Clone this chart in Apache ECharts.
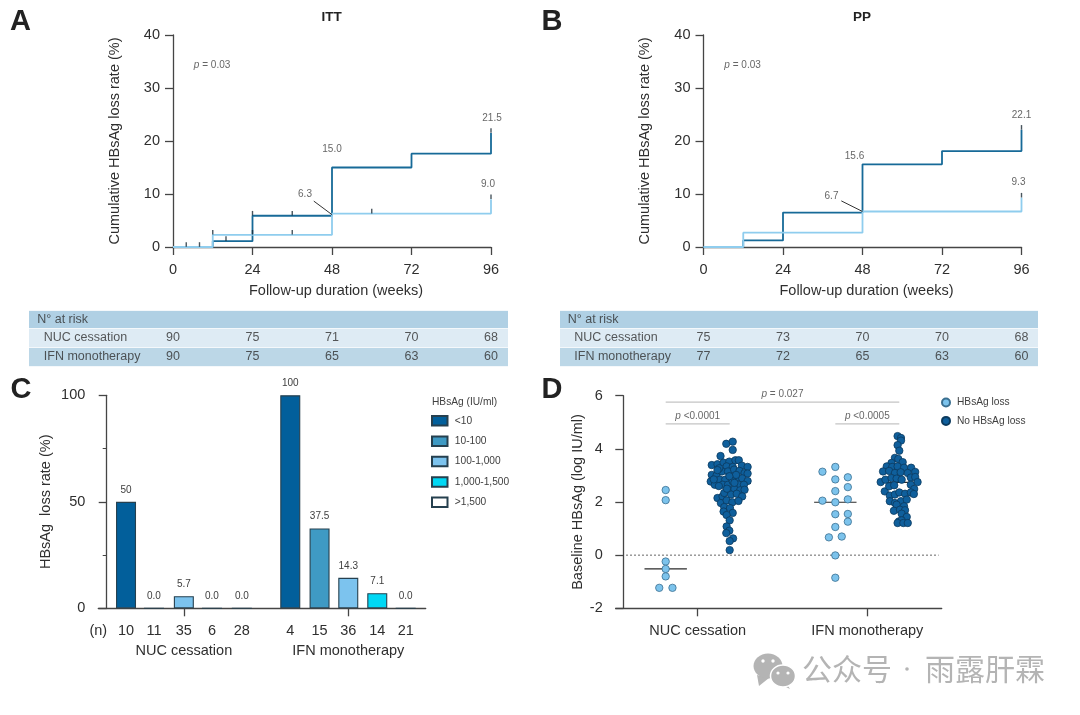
<!DOCTYPE html>
<html><head><meta charset="utf-8">
<style>html,body{margin:0;padding:0;background:#fff}#c{width:1080px;height:715px}</style>
<script src="https://cdn.jsdelivr.net/npm/echarts@6/dist/echarts.min.js"></script>
</head><body><div id="c"></div>
<script>
// ---------- Data ----------
const riskWeeks = [0, 24, 48, 72, 96];
const ittNucRisk = [90, 75, 71, 70, 68];
const ittIfnRisk = [90, 75, 65, 63, 60];
const ppNucRisk = [75, 73, 70, 70, 68];
const ppIfnRisk = [77, 72, 65, 63, 60];

const ittNucStep = [[0,0],[12,1.1],[24,5.9],[48,15.0],[72,17.6],[96,21.5]];
const ittIfnStep = [[0,0],[12,2.3],[48,6.3],[96,9.0]];
const ppNucStep = [[0,0],[12,1.25],[24,6.5],[48,15.6],[72,18.1],[96,22.1]];
const ppIfnStep = [[0,0],[12,2.7],[48,6.7],[96,9.3]];
const ittCensor = [[4,0],[8,0],[12,2.3],[16,1.1],[24,5.9],[24,2.3],[36,5.9],[36,2.3],[60,6.3],[96,21.5],[96,9.0]];
const ppCensor = [[96,22.1],[96,9.3]];
const ittLabels = [[96,21.5,1,-15],[48,15.0,0,-18],[96,9.0,-3,-15],[48,6.3,-27,-19]];
const ppLabels = [[96,22.1,0,-15],[48,15.6,-8,-8],[96,9.3,-3,-15],[48,6.7,-31,-15]];
const ittLeader = [[42.5,8.66],[48,6.1]];
const ppLeader = [[41.6,8.7],[48,6.7]];

const classNames = ['<10','10-100','100-1,000','1,000-1,500','>1,500'];
const classColors = ['#025f9b','#3f9ac4','#7cc3ee','#00d8f5','#ffffff'];
const nucLossRate = [50, 0, 5.7, 0, 0];
const ifnLossRate = [100, 37.5, 14.3, 7.1, 0];
const nucN = [10, 11, 35, 6, 28];
const ifnN = [4, 15, 36, 14, 21];
const nucBarPos = [0.666, 1.63, 2.66, 3.63, 4.66];
const ifnBarPos = [6.33, 7.34, 8.33, 9.33, 10.31];
const groupPos = [2.66, 8.33];
const groupNames = ['NUC cessation', 'IFN monotherapy'];

const dGroupPos = [1, 3.28];
const laneShift = 0.43, swarmUnit = 0.00455, medianHalf = 0.285;
const nucLoss = [[0,2.45],[0,2.07],[0,-0.24],[0,-0.52],[0,-0.80],[-19,-1.23],[20,-1.23]];
const ifnLoss = [[-38,3.14],[0,3.32],[0,2.85],[37,2.93],[0,2.41],[37,2.56],[-38,2.05],[0,1.99],[37,2.10],[0,1.54],[37,1.55],[37,1.26],[0,1.06],[-19,0.67],[19,0.70],[0,-0.01],[0,-0.85]];
const nucNoLoss = [[-10,4.19],[9,4.27],[9,3.96],[-27,3.73],
 [-53,3.39],[-36,3.42],[-18,3.48],[-1,3.52],[17,3.57],[27,3.57],[-9,3.34],[9,3.32],[36,3.37],[53,3.32],
 [-53,3.02],[-39,2.99],[-23,3.15],[-5,3.15],[13,3.22],[29,3.17],[44,3.09],[53,3.07],
 [-56,2.77],[-44,2.65],[-29,2.84],[-13,2.84],[5,2.94],[22,2.90],[37,2.89],[53,2.79],
 [-21,2.65],[-5,2.65],[9,2.78],[27,2.65],[42,2.65],
 [-36,2.15],[-21,2.21],[-3,2.44],[14,2.49],[31,2.44],[44,2.46],
 [-16,2.34],[4,2.28],[21,2.31],[37,2.21],
 [-26,1.96],[-9,2.06],[8,1.99],[26,2.04],
 [-16,1.81],[1,1.77],[9,1.59],[-18,1.64],[-9,1.51],[0,1.31],
 [-9,1.08],[-1,0.92],[-10,0.83],[10,0.63],[0,0.53],[0,0.19],
 [-31,3.27],[19,3.02],[-1,2.97],[-36,3.20],[-47,2.85],[14,2.72],[-8,2.50],[-32,2.60]];
const ifnNoLoss = [[-5,4.48],[5,4.41],[5,4.31],[-5,4.14],[0,3.93],
 [-13,3.66],[-3,3.62],[10,3.50],[-23,3.47],
 [-37,3.34],[-21,3.32],[-5,3.34],[14,3.29],[35,3.29],[47,3.13],[-48,3.15],[-30,3.17],[-13,3.09],[4,3.12],[25,3.09],
 [-55,2.75],[-41,2.84],[-23,2.90],[-8,2.88],[7,2.84],[34,2.92],[47,2.94],[54,2.75],
 [-43,2.40],[-30,2.59],[-15,2.63],[34,2.65],[44,2.49],
 [-28,2.24],[-13,2.28],[0,2.36],[17,2.31],[34,2.36],[43,2.30],
 [-28,2.03],[-13,1.96],[5,2.03],[22,2.09],
 [-8,1.90],[14,1.84],[-16,1.67],[2,1.71],[17,1.69],[7,1.56],[22,1.44],[-1,1.27],[7,1.31],[-5,1.21],[12,1.21],[25,1.21]];
const nucLossMedian = -0.52, nucNoLossMedian = 2.7, ifnLossMedian = 1.99, ifnNoLossMedian = 2.74;

// ---------- Style ----------
const FONT = '"Liberation Sans", Arial, sans-serif';
const AX = '#454545', TXT = '#2f2f2f', SMALL = '#404040', FS = 14.5;
const DARK = '#176a98', LIGHT = '#8fcdee';
const axisLine = (extra) => Object.assign({show:true, lineStyle:{color:AX, width:1.3}}, extra||{});
const axisTick = (extra) => Object.assign({show:true, length:8, lineStyle:{color:AX, width:1.3}}, extra||{});

const grid=[], xAxis=[], yAxis=[], series=[], title=[];
function t(text,left,top,size,weight,color){title.push({text,left,top,padding:0,textStyle:{fontFamily:FONT,fontSize:size,fontWeight:weight||'normal',color:color||'#222'}});}

// ---------- Kaplan-Meier panels ----------
function km(left, nuc, ifn, censor, labels, leader){
  const g=grid.length;
  grid.push({left:left, top:35, width:318, height:212});
  xAxis.push({type:'value',gridIndex:g,min:0,max:96,interval:24,splitLine:{show:false},
    axisLine:axisLine(),axisTick:axisTick(),
    axisLabel:{fontSize:FS,color:TXT,margin:15,fontFamily:FONT},
    name:'Follow-up duration (weeks)',nameLocation:'middle',nameGap:36,
    nameTextStyle:{fontSize:FS,color:TXT,fontFamily:FONT,padding:[0,0,0,8]}});
  yAxis.push({type:'value',gridIndex:g,min:0,max:40,interval:10,splitLine:{show:false},
    axisLine:axisLine(),axisTick:axisTick(),
    axisLabel:{fontSize:FS,color:TXT,margin:13,fontFamily:FONT},
    name:'Cumulative HBsAg loss rate (%)',nameLocation:'middle',nameGap:51,
    nameTextStyle:{fontSize:FS,color:TXT,fontFamily:FONT}});
  const base={xAxisIndex:g,yAxisIndex:g,silent:true};
  series.push(Object.assign({type:'line',step:'end',data:nuc,showSymbol:false,z:5,clip:false,lineStyle:{color:DARK,width:1.8}},base));
  series.push(Object.assign({type:'line',step:'end',data:ifn,showSymbol:false,z:6,clip:false,lineStyle:{color:LIGHT,width:1.8}},base));
  series.push(Object.assign({type:'scatter',data:censor,symbol:'rect',symbolSize:[1.4,4.6],symbolOffset:[0,-2.5],z:7,clip:false,itemStyle:{color:'#1a2a35'}},base));
  series.push(Object.assign({type:'line',data:leader,showSymbol:false,z:8,lineStyle:{color:'#333',width:1}},base));
  series.push(Object.assign({type:'scatter',symbolSize:0,z:9,clip:false,data:labels.map(d=>({value:[d[0],d[1]],label:{show:true,position:'inside',offset:[d[2],d[3]],formatter:d[1].toFixed(1),fontSize:10,color:SMALL,fontFamily:FONT}}))},base));
  series.push(Object.assign({type:'scatter',symbolSize:0,z:9,data:[[6.3,34.3]],label:{show:true,position:'right',distance:0,formatter:'{i|p} = 0.03',fontSize:10,color:SMALL,fontFamily:FONT,rich:{i:{fontStyle:'italic',fontSize:10,color:SMALL,fontFamily:FONT}}}},base));
}

// ---------- At-risk tables ----------
function riskTable(left, width, zeroPx, nucR, ifnR){
  const g=grid.length, pxPerWeek=3.3125;
  const rows=['N° at risk','NUC cessation','IFN monotherapy'];
  grid.push({left:left,top:310,width:width,height:56});
  xAxis.push({type:'value',gridIndex:g,min:(left-zeroPx)/pxPerWeek,max:(left+width-zeroPx)/pxPerWeek,show:false,splitLine:{show:false}});
  yAxis.push({type:'category',gridIndex:g,inverse:true,data:rows,axisLine:{show:false},axisTick:{show:false},axisLabel:{show:false},
    splitLine:{show:true,interval:0,lineStyle:{color:'#f4f8fb',width:1}},
    splitArea:{show:true,interval:0,areaStyle:{color:['#b0d0e4','#deebf4','#bcd7e7'],opacity:1}}});
  const base={type:'scatter',xAxisIndex:g,yAxisIndex:g,symbolSize:0,silent:true,z:5};
  const lab={fontSize:12.5,color:TXT,fontFamily:FONT};
  const heads=[['N° at risk',-41],['NUC cessation',-39],['IFN monotherapy',-39]];
  series.push(Object.assign({},base,{data:heads.map(h=>({value:[h[1],h[0]],label:{show:true,position:'right',distance:0,formatter:h[0],...lab}}))}));
  [[nucR,rows[1]],[ifnR,rows[2]]].forEach(r=>{
    series.push(Object.assign({},base,{data:riskWeeks.map((w,i)=>({value:[w,r[1]],label:{show:true,position:'inside',formatter:String(r[0][i]),...lab}}))}));
  });
}

km(173,ittNucStep,ittIfnStep,ittCensor,ittLabels,ittLeader);
km(703.5,ppNucStep,ppIfnStep,ppCensor,ppLabels,ppLeader);
riskTable(29,479,173,ittNucRisk,ittIfnRisk);
riskTable(560,478,703.5,ppNucRisk,ppIfnRisk);

// ---------- Panel C ----------
(function(){
  const g=grid.length, xMin=-0.29, xMax=11.0;
  const allPos=nucBarPos.concat(ifnBarPos), allN=nucN.concat(ifnN);
  grid.push({left:98.3,top:395.3,width:327.4,height:213});
  xAxis.push({type:'value',gridIndex:g,position:'bottom',min:xMin,max:xMax,splitLine:{show:false},
    axisLine:axisLine(),
    axisTick:axisTick({customValues:groupPos}),
    axisLabel:{fontSize:FS,color:TXT,fontFamily:FONT,margin:15,customValues:[xMin].concat(allPos),
      formatter:v=>{ if(Math.abs(v-xMin)<1e-6) return '(n)'; const i=allPos.findIndex(p=>Math.abs(p-v)<1e-6); return i>=0?String(allN[i]):'';}}});
  xAxis.push({type:'value',gridIndex:g,position:'bottom',min:xMin,max:xMax,splitLine:{show:false},offset:20,
    axisLine:{show:false,onZero:false},axisTick:{show:false},
    axisLabel:{fontSize:FS,color:TXT,fontFamily:FONT,margin:15,customValues:groupPos,
      formatter:v=>groupNames[groupPos.findIndex(p=>Math.abs(p-v)<1e-6)]||''}});
  yAxis.push({type:'value',gridIndex:g,min:0,max:100,interval:50,splitLine:{show:false},
    minorTick:{show:true,splitNumber:2,length:4,lineStyle:{color:AX,width:1}},
    axisLine:axisLine(),axisTick:axisTick(),
    axisLabel:{fontSize:FS,color:TXT,margin:13,fontFamily:FONT},
    name:'HBsAg  loss rate (%)',nameLocation:'middle',nameGap:44.6,
    nameTextStyle:{fontSize:FS,color:TXT,fontFamily:FONT}});
  const xi=xAxis.length-2;
  classNames.forEach((name,i)=>{
    series.push({type:'bar',name,xAxisIndex:xi,yAxisIndex:yAxis.length-1,barWidth:20,barGap:'-100%',silent:true,z:4,
      itemStyle:{color:classColors[i],borderColor:'#26404f',borderWidth:1.1},
      data:[[nucBarPos[i],nucLossRate[i]],[ifnBarPos[i],ifnLossRate[i]]],
      label:{show:true,position:'top',distance:7,fontSize:10,color:SMALL,fontFamily:FONT,
        formatter:p=>{const v=p.value[1];return (v===50||v===100)?String(v):v.toFixed(1);}}});
  });
})();

// ---------- Panel D ----------
(function(){
  const g=grid.length, xi=xAxis.length, yi=yAxis.length;
  grid.push({left:615.7,top:395.7,width:326,height:212.6});
  xAxis.push({type:'value',gridIndex:g,position:'bottom',min:-0.102,max:4.28,splitLine:{show:false},
    axisLine:axisLine({onZero:false}),
    axisTick:axisTick({customValues:dGroupPos}),
    axisLabel:{fontSize:FS,color:TXT,fontFamily:FONT,margin:15,customValues:dGroupPos,
      formatter:v=>groupNames[dGroupPos.findIndex(p=>Math.abs(p-v)<1e-6)]||''}});
  yAxis.push({type:'value',gridIndex:g,min:-2,max:6,interval:2,splitLine:{show:false},
    axisLine:axisLine(),axisTick:axisTick(),
    axisLabel:{fontSize:FS,color:TXT,margin:13,fontFamily:FONT},
    name:'Baseline HBsAg (log IU/ml)',nameLocation:'middle',nameGap:29.7,
    nameTextStyle:{fontSize:FS,color:TXT,fontFamily:FONT}});
  const ln=(data,color,width,type,z)=>({type:'line',xAxisIndex:xi,yAxisIndex:yi,data,showSymbol:false,silent:true,z:z||3,lineStyle:{color,width,type:type||'solid'}});
  const A=dGroupPos[0]-laneShift,B=dGroupPos[0]+laneShift,C=dGroupPos[1]-laneShift,D=dGroupPos[1]+laneShift;
  series.push(ln([[0.04,0],[4.24,0]],'#333',1,[1.5,2.5]));
  series.push(ln([[A,5.76],[D,5.76]],'#c4c4c4',1.1));
  series.push(ln([[A,4.94],[B,4.94]],'#c4c4c4',1.1));
  series.push(ln([[C,4.94],[D,4.94]],'#c4c4c4',1.1));
  [[A,nucLossMedian],[B,nucNoLossMedian],[C,ifnLossMedian],[D,ifnNoLossMedian]].forEach(m=>{
    series.push(ln([[m[0]-medianHalf,m[1]],[m[0]+medianHalf,m[1]]],'#2a2a2a',1.2,'solid',3));
  });
  const rich={i:{fontStyle:'italic',fontSize:10,color:SMALL,fontFamily:FONT}};
  const pl=(x,y,txt)=>({value:[x,y],label:{show:true,position:'top',distance:3,formatter:txt,fontSize:10,color:SMALL,fontFamily:FONT,rich}});
  series.push({type:'scatter',xAxisIndex:xi,yAxisIndex:yi,symbolSize:0,silent:true,clip:false,z:4,
    data:[pl((A+D)/2,5.76,'{i|p} = 0.027'),pl((A+B)/2,4.94,'{i|p} <0.0001'),pl((C+D)/2,4.94,'{i|p} <0.0005')]});
  const pts=(arr,c)=>arr.map(d=>[c+d[0]*swarmUnit,d[1]]);
  const dot=(name,data,fill,edge,z)=>({type:'scatter',name,xAxisIndex:xi,yAxisIndex:yi,symbol:'circle',symbolSize:7.4,silent:true,z,data,
    itemStyle:{color:fill,borderColor:edge,borderWidth:0.8,opacity:1}});
  series.push(dot('HBsAg loss',pts(nucLoss,A).concat(pts(ifnLoss,C)),'#7cc3ec','#3a6f90',5));
  series.push(dot('No HBsAg loss',pts(nucNoLoss,B).concat(pts(ifnNoLoss,D)),'#0f5f9c','#0b3a5e',5));
})();

// ---------- Text ----------
t('A',10,7,29,'bold'); t('B',541.5,7,29,'bold'); t('C',10.5,375,29,'bold'); t('D',541.5,375,29,'bold');
t('ITT',321.5,10,13.5,'bold'); t('PP',853,10,13.5,'bold');
t('HBsAg (IU/ml)',432,397,10.2,'normal','#404040');

// ---------- Watermark ----------
const WM='#b4b4b4';
const wmText=(text,x)=>({type:'text',left:x,top:654,style:{text,fontFamily:'"Noto Sans CJK SC"',fontSize:30,fill:WM}});
const graphic=[
 {type:'polygon',shape:{points:[[757,675],[759,686],[769,678]]},style:{fill:WM}},
 {type:'ellipse',shape:{cx:768,cy:666,rx:14.5,ry:12.5},style:{fill:WM}},
 {type:'polygon',shape:{points:[[786,683],[790,689],[782,685]]},style:{fill:WM}},
 {type:'ellipse',shape:{cx:783,cy:676,rx:12.5,ry:11},style:{fill:WM,stroke:'#fff',lineWidth:1.5}},
 {type:'circle',shape:{cx:763,cy:661,r:1.7},style:{fill:'#fff'}},
 {type:'circle',shape:{cx:773,cy:661,r:1.7},style:{fill:'#fff'}},
 {type:'circle',shape:{cx:778,cy:673,r:1.6},style:{fill:'#fff'}},
 {type:'circle',shape:{cx:788,cy:673,r:1.6},style:{fill:'#fff'}},
 {type:'circle',shape:{cx:907,cy:669,r:1.8},style:{fill:WM}},
 wmText('公众号',802),wmText('雨露肝霖',925)
];

const chart=echarts.init(document.getElementById('c'),null,{renderer:'canvas'});
chart.setOption({
  animation:false,backgroundColor:'#fff',textStyle:{fontFamily:FONT},
  title,grid,xAxis,yAxis,series,graphic,tooltip:{show:false},
  legend:[
   {data:classNames.map(name=>({name,icon:'rect'})),orient:'vertical',left:431,top:415,itemWidth:15.5,itemHeight:9.5,itemGap:8.9,selectedMode:false,
    textStyle:{fontSize:10.2,color:SMALL,fontFamily:FONT,padding:[0,0,0,2.3]},padding:0},
   {data:['HBsAg loss','No HBsAg loss'],orient:'vertical',left:941,top:397.5,itemWidth:8,itemHeight:8,itemGap:8.4,selectedMode:false,
    textStyle:{fontSize:10.2,color:SMALL,fontFamily:FONT,padding:[0,0,0,2]},padding:0}
  ]
});
</script></body></html>
